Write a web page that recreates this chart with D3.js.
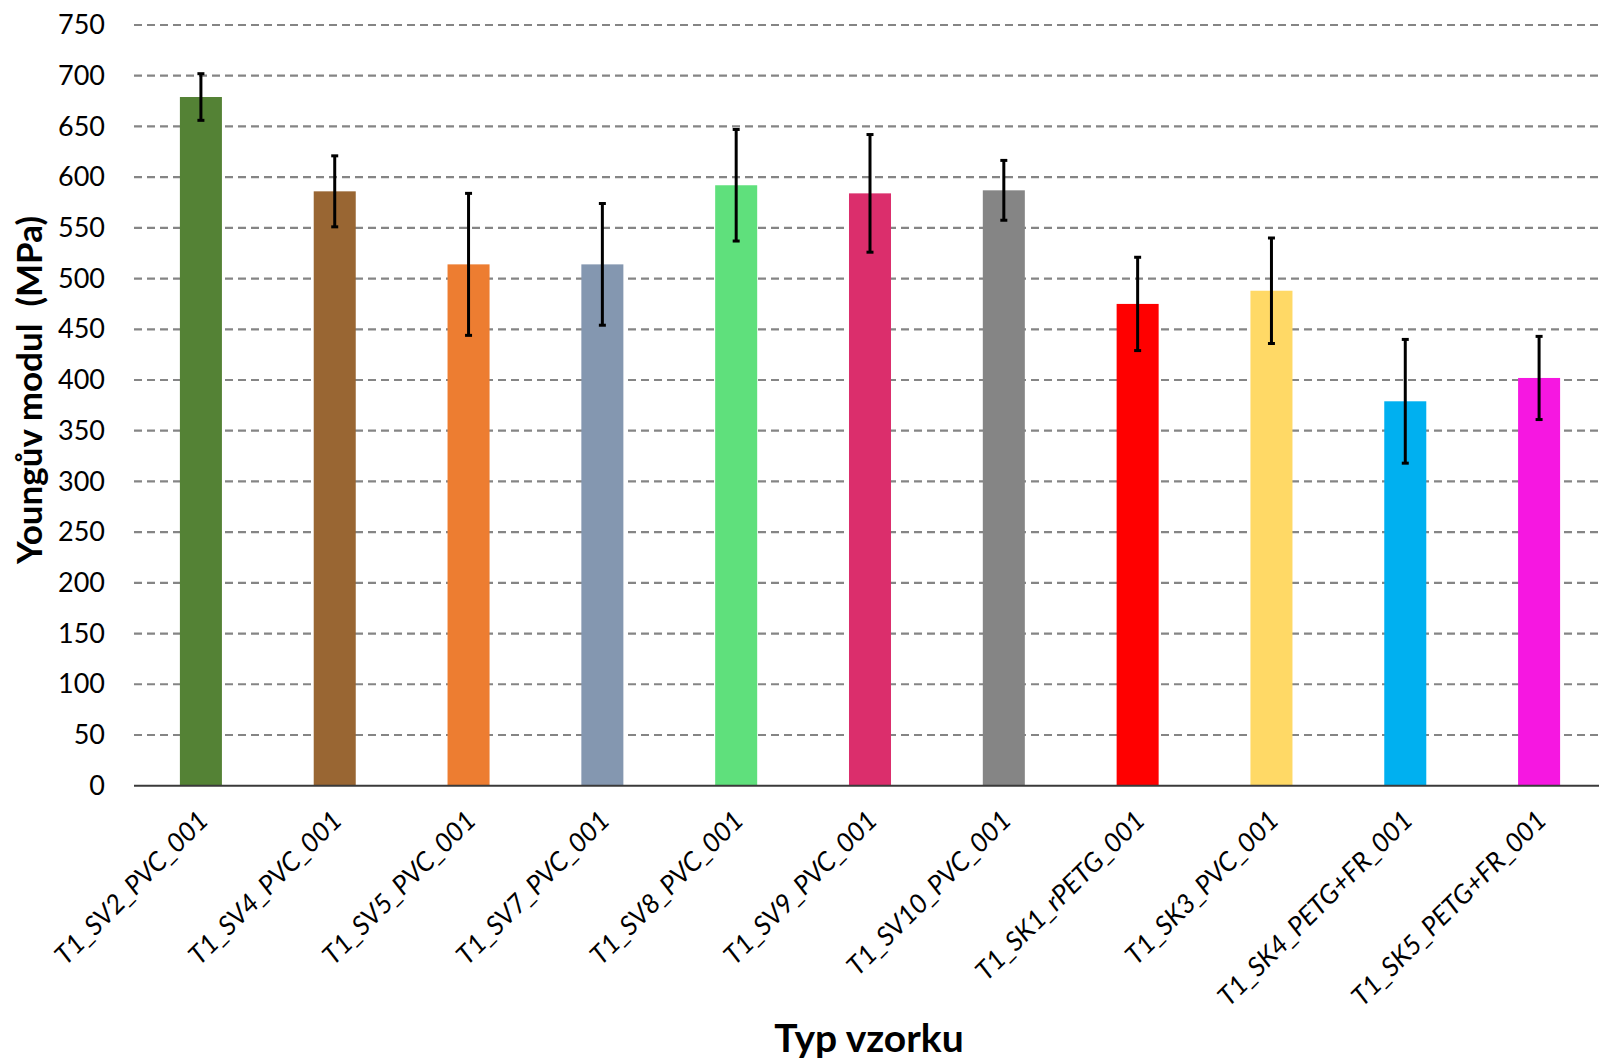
<!DOCTYPE html>
<html><head><meta charset="utf-8">
<script src="https://cdn.jsdelivr.net/npm/d3@7"></script>
<style>
html,body{margin:0;padding:0;background:#fff;}
svg{display:block;font-family:Lato,"Open Sans",sans-serif;}
</style></head>
<body><svg id="chart" width="1599" height="1060"></svg>
<script>
const categories = ["T1_SV2_PVC_001","T1_SV4_PVC_001","T1_SV5_PVC_001","T1_SV7_PVC_001","T1_SV8_PVC_001","T1_SV9_PVC_001","T1_SV10_PVC_001","T1_SK1_rPETG_001","T1_SK3_PVC_001","T1_SK4_PETG+FR_001","T1_SK5_PETG+FR_001"];
const values = [679, 586, 514, 514, 592, 584, 587, 475, 488, 379, 402];
const errors = [23, 35, 70, 60, 55, 58, 29.5, 46, 52, 61, 41];
const barColors = ["#548235","#996633","#ED7D31","#8497B0","#5FE07C","#DB2E6C","#858585","#FF0000","#FFD966","#00B0F0","#F617E1"];
const yTicks = [0,50,100,150,200,250,300,350,400,450,500,550,600,650,700,750];
const yTitle = "Youngův modul  (MPa)";
const xTitle = "Typ vzorku";

const svg = d3.select("#chart");
const plotL = 134, plotR = 1606, plotT = 25, plotB = 785.7;

const x = d3.scaleBand().domain(categories).range([plotL, plotR]).paddingInner(0.686).paddingOuter(0.343);
const y = d3.scaleLinear().domain([0, 750]).range([plotB, plotT]);

// gridlines
svg.append("g").selectAll("line").data(yTicks.filter(d => d > 0)).join("line")
  .attr("x1", plotL).attr("x2", 1599)
  .attr("y1", d => y(d)).attr("y2", d => y(d))
  .attr("stroke", "#858585").attr("stroke-width", 2.2).attr("stroke-dasharray", "8,5");

// y axis labels
const yAxis = d3.axisLeft(y).tickValues(yTicks).tickSize(0).tickPadding(29);
const gy = svg.append("g").attr("transform", `translate(${plotL},0)`).call(yAxis);
gy.select(".domain").remove();
gy.selectAll("text").attr("font-size", 27).attr("fill", "#000").attr("font-family", "Lato");

// bars
svg.append("g").selectAll("rect").data(categories).join("rect")
  .attr("x", d => x(d)).attr("width", x.bandwidth())
  .attr("y", (d, i) => y(values[i])).attr("height", (d, i) => y(0) - y(values[i]))
  .attr("fill", (d, i) => barColors[i]);

// baseline axis
const xAxis = d3.axisBottom(x).tickSize(0).tickFormat("");
const gx = svg.append("g").attr("transform", `translate(0,${y(0)})`).call(xAxis);
gx.select(".domain").attr("stroke", "#3a3a3a").attr("stroke-width", 2).attr("d", `M${plotL},0H1599`);

// error bars
const eg = svg.append("g").attr("stroke", "#000").attr("stroke-width", 3);
categories.forEach((c, i) => {
  const cx = x(c) + x.bandwidth() / 2;
  const y1 = y(values[i] + errors[i]), y2 = y(values[i] - errors[i]);
  eg.append("line").attr("x1", cx).attr("x2", cx).attr("y1", y1).attr("y2", y2);
  eg.append("line").attr("x1", cx - 3.5).attr("x2", cx + 3.5).attr("y1", y1).attr("y2", y1);
  eg.append("line").attr("x1", cx - 3.5).attr("x2", cx + 3.5).attr("y1", y2).attr("y2", y2);
});

// x labels rotated
svg.append("g").selectAll("text").data(categories).join("text")
  .attr("transform", d => `translate(${x(d) + x.bandwidth() / 2 + 9},822) rotate(-45)`)
  .attr("text-anchor", "end")
  .attr("font-size", 26.5).attr("font-style", "italic").attr("fill", "#000")
  .text(d => d);

// axis titles
svg.append("text").attr("transform", "translate(42,390) rotate(-90)")
  .attr("text-anchor", "middle").attr("font-size", 35).attr("font-weight", "bold").attr("fill", "#000")
  .style("white-space", "pre")
  .text(yTitle);
svg.append("text").attr("x", 869).attr("y", 1052)
  .attr("text-anchor", "middle").attr("font-size", 39).attr("font-weight", "bold").attr("fill", "#000")
  .text(xTitle);
</script></body></html>
